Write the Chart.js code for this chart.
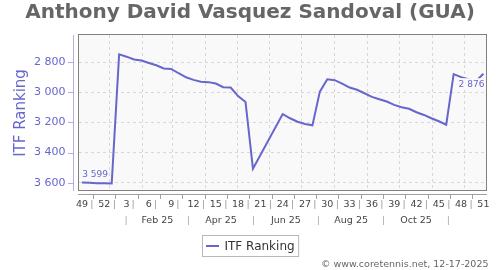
<!DOCTYPE html>
<html>
<head>
<meta charset="utf-8">
<script src="https://cdn.jsdelivr.net/npm/chart.js@4/dist/chart.umd.min.js"></script>
<style>
  html, body { margin: 0; padding: 0; background: #ffffff; }
  #c { display: block; }
</style>
</head>
<body>
<canvas id="c" width="500" height="270"></canvas>
<script>
// ---------------- data ----------------
const chartTitle = 'Anthony David Vasquez Sandoval (GUA)';
const seriesName = 'ITF Ranking';
const footerText = '\u00A9 www.coretennis.net, 12-17-2025';

const dates = [
  '2024-12-06','2024-12-13','2024-12-20','2024-12-27','2025-01-03',
  '2025-01-10','2025-01-17','2025-01-24','2025-01-31','2025-02-07',
  '2025-02-14','2025-02-21','2025-02-28','2025-03-07','2025-03-14',
  '2025-03-21','2025-03-28','2025-04-04','2025-04-11','2025-04-18',
  '2025-04-25','2025-05-02','2025-05-09','2025-05-16',
  '2025-06-13','2025-06-20','2025-06-27','2025-07-04','2025-07-11',
  '2025-07-18','2025-07-25','2025-08-01','2025-08-08','2025-08-15',
  '2025-08-22','2025-08-29','2025-09-05','2025-09-12','2025-09-19',
  '2025-09-26','2025-10-03','2025-10-10','2025-10-17','2025-10-24',
  '2025-10-31','2025-11-07','2025-11-14','2025-11-21','2025-11-28',
  '2025-12-05','2025-12-12','2025-12-19'
];
const ranks = [
  3599, 3601, 3603, 3604, 3605,
  2747, 2763, 2782, 2789, 2805,
  2820, 2841, 2844, 2873, 2900,
  2917, 2929, 2932, 2941, 2966,
  2968, 3025, 3064, 3507,
  3144, 3172, 3195, 3210, 3219,
  2995, 2913, 2919, 2942, 2968,
  2983, 3006, 3030, 3046, 3061,
  3083, 3099, 3109, 3132, 3150,
  3172, 3192, 3215, 2879, 2899,
  2912, 2926, 2876
];

const yTicks = [2800, 3000, 3200, 3400, 3600];
const weekLabels = ['49','52','3','6','9','12','15','18','21','24','27','30','33','36','39','42','45','48','51'];
const firstWeekTick = '2024-12-06';
const monthStarts = ['2025-01-01','2025-02-01','2025-03-01','2025-04-01','2025-05-01','2025-06-01',
                     '2025-07-01','2025-08-01','2025-09-01','2025-10-01','2025-11-01','2025-12-01'];
const monthLabels = ['Feb 25','Apr 25','Jun 25','Aug 25','Oct 25'];

// ---------------- helpers ----------------
const DAY0 = Date.UTC(2025, 0, 1);
const toDay = s => (Date.parse(s + 'T00:00:00Z') - DAY0) / 864e5;
const fmt = v => String(Math.round(v)).replace(/\B(?=(\d{3})+(?!\d))/g, ' ');

const X_MIN = -28.8, X_MAX = 355.4;
const Y_MIN = 2619, Y_MAX = 3655;

const LINE = '#6666cc';
const FONT = "'DejaVu Sans', sans-serif";

// week tick row: labels + separators
const wkTicks = [];
const wkMarks = [];
const w0 = toDay(firstWeekTick);
weekLabels.forEach((lab, i) => {
  const d = w0 + 21 * i;
  wkTicks.push({ value: d, label: lab, sep: false });
  if (i < weekLabels.length - 1) {
    wkTicks.push({ value: d + (lab.length === 1 ? 6.2 : 9.4), label: '|', sep: true });
    wkMarks.push(d + 10.5);
  }
});

// month row: month-start grid lines, mid-month labels / separators
const moTicks = [];
monthStarts.forEach((s, m) => {
  const d = toDay(s);
  moTicks.push({ value: d, label: '', grid: true, sep: false });
  if (m < monthStarts.length - 1) {
    const mid = (d + toDay(monthStarts[m + 1])) / 2;
    if (m % 2 === 1) moTicks.push({ value: mid, label: monthLabels[(m - 1) / 2], grid: false, sep: false });
    else moTicks.push({ value: mid, label: '|', grid: false, sep: true });
  }
});

const points = dates.map((d, i) => ({ x: toDay(d), y: ranks[i] }));

// ---------------- decoration plugin ----------------
const deco = {
  id: 'deco',
  beforeDraw(chart) {
    const { ctx, chartArea: a } = chart;
    ctx.save();
    ctx.fillStyle = '#ffffff';
    ctx.fillRect(0, 0, chart.width, chart.height);
    ctx.fillStyle = '#f9f9f9';
    ctx.fillRect(a.left, a.top, a.right - a.left, a.bottom - a.top);
    ctx.restore();
  },
  afterDatasetsDraw(chart) {
    const { ctx, chartArea: a } = chart;
    const ys = chart.scales.y, xs = chart.scales.x;
    ctx.save();
    // frame
    ctx.strokeStyle = '#808080';
    ctx.lineWidth = 1;
    ctx.strokeRect(a.left - 0.5, a.top - 0.5, a.right - a.left, a.bottom - a.top);
    // y axis line + tick marks
    ctx.strokeStyle = '#b0b0e0';
    ctx.beginPath();
    ctx.moveTo(a.left - 5.5, a.top);
    ctx.lineTo(a.left - 5.5, a.bottom);
    yTicks.forEach(v => {
      const p = Math.round(ys.getPixelForValue(v)) + 0.5;
      ctx.moveTo(a.left - 11, p);
      ctx.lineTo(a.left - 5, p);
    });
    ctx.stroke();
    // x axis line + tick marks
    ctx.strokeStyle = '#a0a0a0';
    ctx.beginPath();
    ctx.moveTo(a.left - 1, a.bottom + 3.5);
    ctx.lineTo(a.right, a.bottom + 3.5);
    wkMarks.forEach(v => {
      const p = Math.round(xs.getPixelForValue(v)) + 0.5;
      ctx.moveTo(p, a.bottom + 4);
      ctx.lineTo(p, a.bottom + 8);
    });
    ctx.stroke();

    // data labels (first & last)
    const meta = chart.getDatasetMeta(0).data;
    ctx.font = '9px ' + FONT;
    ctx.textBaseline = 'middle';
    const first = meta[0], last = meta[meta.length - 1];
    const t1 = fmt(ranks[0]);
    const w1 = ctx.measureText(t1).width;
    const x1 = first.x + 0.3, y1 = first.y - 8.3;
    ctx.fillStyle = '#f9f9f9';
    ctx.fillRect(x1 - 1, y1 - 5.5, w1 + 2, 11);
    ctx.fillStyle = LINE;
    ctx.textAlign = 'left';
    ctx.fillText(t1, x1, y1);

    const t2 = fmt(ranks[ranks.length - 1]);
    const w2 = ctx.measureText(t2).width;
    const x2 = last.x + 1, y2 = last.y + 10.5;
    ctx.fillStyle = '#f9f9f9';
    ctx.fillRect(x2 - w2 - 1.5, y2 - 6, w2 + 2, 12);
    ctx.fillStyle = LINE;
    ctx.textAlign = 'right';
    ctx.fillText(t2, x2, y2);
    ctx.restore();
  },
  afterDraw(chart) {
    const { ctx } = chart;
    ctx.save();
    // legend
    ctx.font = '12px ' + FONT;
    const tw = ctx.measureText(seriesName).width;
    const bw = 4 + 13 + 5 + tw + 4;
    const bx = Math.round(chart.width / 2 - bw / 2) + 0.5;
    const by = 235.5, bh = 21;
    ctx.fillStyle = '#ffffff';
    ctx.fillRect(bx, by, bw, bh);
    ctx.strokeStyle = '#b8b8b8';
    ctx.lineWidth = 1;
    ctx.strokeRect(bx, by, bw, bh);
    ctx.strokeStyle = LINE;
    ctx.lineWidth = 2;
    ctx.beginPath();
    ctx.moveTo(bx + 3.5, by + bh / 2);
    ctx.lineTo(bx + 16.5, by + bh / 2);
    ctx.stroke();
    ctx.fillStyle = '#333333';
    ctx.textAlign = 'left';
    ctx.textBaseline = 'middle';
    ctx.fillText(seriesName, bx + 22, by + bh / 2 + 0.5);
    // footer
    ctx.font = '9.5px ' + FONT;
    ctx.fillStyle = '#666666';
    ctx.textAlign = 'right';
    ctx.fillText(footerText, 488.5, 264.5);
    ctx.restore();
  }
};

Chart.defaults.font.family = FONT;

new Chart(document.getElementById('c'), {
  type: 'line',
  data: {
    datasets: [{
      label: seriesName,
      data: points,
      borderColor: LINE,
      backgroundColor: LINE,
      borderWidth: 2,
      pointRadius: 0,
      pointHoverRadius: 0,
      tension: 0,
      fill: false,
      xAxisID: 'x',
      yAxisID: 'y'
    }]
  },
  options: {
    responsive: false,
    animation: false,
    devicePixelRatio: 1,
    layout: { padding: { left: 0, right: 0, top: 0, bottom: 45 } },
    plugins: {
      legend: { display: false },
      tooltip: { enabled: false },
      title: {
        display: true,
        text: chartTitle,
        color: '#666666',
        font: { family: FONT, size: 20, weight: 'bold' },
        padding: { top: 0.5, bottom: 10.5 }
      }
    },
    scales: {
      x: {
        type: 'linear',
        position: 'bottom',
        weight: 0,
        min: X_MIN, max: X_MAX,
        afterBuildTicks: s => { s.ticks = wkTicks.map(t => ({ value: t.value })); },
        afterFit: s => { s.height = 20; },
        ticks: {
          autoSkip: false, maxRotation: 0, minRotation: 0,
          padding: 8.3,
          font: { family: FONT, size: 9.5 },
          color: c => (wkTicks[c.index] && wkTicks[c.index].sep) ? '#999999' : '#444444',
          callback: (v, i) => wkTicks[i] ? wkTicks[i].label : ''
        },
        grid: { display: false, drawTicks: false },
        border: { display: false }
      },
      xm: {
        type: 'linear',
        position: 'bottom',
        weight: 1,
        min: X_MIN, max: X_MAX,
        afterBuildTicks: s => { s.ticks = moTicks.map(t => ({ value: t.value })); },
        afterFit: s => { s.height = 14; },
        ticks: {
          autoSkip: false, maxRotation: 0, minRotation: 0,
          padding: 4,
          font: { family: FONT, size: 9.5 },
          color: c => (moTicks[c.index] && moTicks[c.index].sep) ? '#aaaaaa' : '#444444',
          callback: (v, i) => moTicks[i] ? moTicks[i].label : ''
        },
        grid: {
          display: true, drawTicks: false, drawOnChartArea: true,
          color: c => (moTicks[c.index] && moTicks[c.index].grid) ? '#d8d8d8' : 'rgba(0,0,0,0)',
          lineWidth: 1
        },
        border: { display: false, dash: [3, 3] }
      },
      y: {
        type: 'linear',
        position: 'left',
        reverse: true,
        min: Y_MIN, max: Y_MAX,
        afterBuildTicks: s => { s.ticks = yTicks.map(v => ({ value: v })); },
        afterFit: s => { s.width = 79; },
        ticks: {
          padding: 13.5,
          color: LINE,
          font: { family: FONT, size: 11 },
          callback: v => fmt(v)
        },
        grid: { color: '#d8d8d8', drawTicks: false, lineWidth: 1 },
        border: { display: false, dash: [3, 3] },
        title: {
          display: true,
          text: seriesName,
          color: LINE,
          font: { family: FONT, size: 15 },
          padding: { top: 11.7, bottom: 0 }
        }
      },
      yr: {
        type: 'linear',
        position: 'right',
        display: true,
        min: Y_MIN, max: Y_MAX,
        afterFit: s => { s.width = 13; },
        ticks: { display: false },
        grid: { display: false, drawTicks: false },
        border: { display: false }
      }
    }
  },
  plugins: [deco]
});
</script>
</body>
</html>
